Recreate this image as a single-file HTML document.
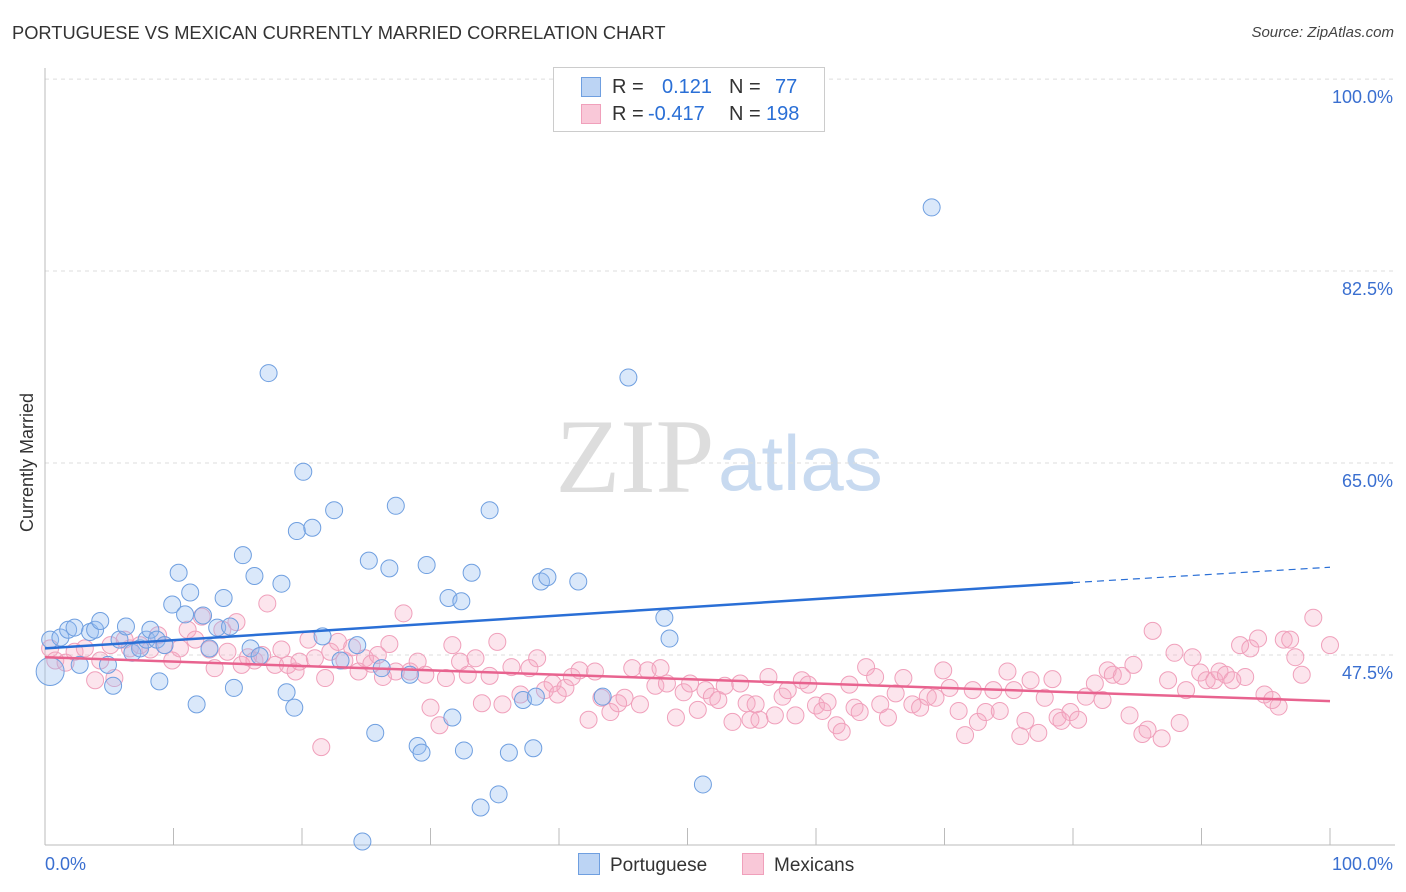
<!DOCTYPE html>
<html><head><meta charset="utf-8"><style>
body{margin:0;background:#fff;font-family:"Liberation Sans",sans-serif;}
#wrap{position:relative;width:1406px;height:892px;overflow:hidden;}
.t{position:absolute;white-space:nowrap;}
</style></head><body>
<div id="wrap">
<div class="t" style="left:12px;top:22px;font-size:18.3px;color:#333">PORTUGUESE VS MEXICAN CURRENTLY MARRIED CORRELATION CHART</div>
<div class="t" style="right:12px;top:24px;font-size:15px;color:#444;font-style:italic">Source: ZipAtlas.com</div>
<div class="t" style="font-size:18px;color:#333;transform:rotate(-90deg);transform-origin:0 0;top:532px;left:17px">Currently Married</div>
<svg id="svg" width="1406" height="892" style="position:absolute;left:0;top:0"></svg>
</div>
<script>
const yTicks=[100,82.5,65,47.5];
const xTickLabels=["0.0%","100.0%"];
const blueX=[0.4,1.2,1.8,2.3,2.7,3.5,3.9,4.3,4.9,5.3,5.8,6.3,6.8,7.4,7.9,8.2,8.7,8.9,9.3,9.9,10.4,10.9,11.3,11.8,12.3,12.8,13.4,13.9,14.4,14.7,15.4,16.0,16.3,16.7,17.4,18.4,18.8,19.4,19.6,20.1,20.8,21.6,22.5,23.0,24.3,25.2,25.7,26.2,26.8,27.3,28.4,29.0,29.3,29.7,31.4,31.7,32.4,32.6,33.2,33.9,34.6,35.3,36.1,37.2,38.0,38.2,38.6,39.1,41.5,43.4,45.4,48.2,48.6,51.2,69.0,24.7,0.4];
const blueY=[48.9,49.1,49.8,50.0,46.6,49.6,49.8,50.6,46.6,44.7,48.9,50.1,47.7,48.1,48.9,49.8,48.9,45.1,48.4,52.1,55.0,51.2,53.2,43.0,51.1,48.1,50.0,52.7,50.1,44.5,56.6,48.1,54.7,47.4,73.2,54.0,44.1,42.7,58.8,64.2,59.1,49.2,60.7,47.0,48.4,56.1,40.4,46.3,55.4,61.1,45.7,39.2,38.6,55.7,52.7,41.8,52.4,38.8,55.0,33.6,60.7,34.8,38.6,43.4,39.0,43.7,54.2,54.6,54.2,43.7,72.8,50.9,49.0,35.7,88.3,30.5,46.0];
const pinkX=[0.4,0.8,1.6,2.3,3.1,3.9,4.3,5.1,5.4,6.2,6.6,7.4,8.2,8.8,9.3,9.9,10.5,11.1,11.7,12.2,12.8,13.2,13.8,14.2,14.9,15.3,15.8,16.3,16.9,17.3,17.9,18.4,18.9,19.5,19.8,20.5,21.0,21.5,21.8,22.2,22.8,23.3,23.9,24.4,24.9,25.4,25.9,26.3,26.8,27.3,27.9,28.4,29.0,29.6,30.0,30.7,31.2,31.7,32.3,32.9,33.5,34.0,34.6,35.2,35.6,36.3,37.0,37.7,38.3,38.9,39.5,39.9,40.5,41.0,41.6,42.3,42.8,43.3,44.0,44.6,45.1,45.7,46.3,46.9,47.5,47.9,48.4,49.1,49.7,50.2,50.8,51.4,51.9,52.4,52.9,53.5,54.1,54.6,54.9,55.3,55.6,56.3,56.8,57.4,57.8,58.4,58.9,59.4,60.0,60.5,60.9,61.6,62.0,62.6,63.0,63.4,63.9,64.6,65.0,65.6,66.2,66.8,67.5,68.1,68.7,69.3,69.9,70.4,71.1,71.6,72.2,72.6,73.2,73.8,74.3,74.9,75.4,75.9,76.3,76.7,77.3,77.8,78.4,78.8,79.1,79.8,80.4,81.0,81.7,82.3,82.7,83.1,83.8,84.4,84.7,85.4,85.8,86.2,86.9,87.4,87.9,88.3,88.8,89.3,89.9,90.4,91.0,91.4,91.9,92.4,93.0,93.4,93.8,94.4,94.9,95.5,96.0,96.4,96.9,97.3,97.8,98.7,100];
const pinkY=[48.1,47.0,46.8,47.8,48.1,45.2,47.0,48.4,45.4,48.9,48.1,48.4,48.0,49.3,48.4,47.0,48.1,49.8,48.9,51.0,48.0,46.3,49.8,47.8,50.5,46.6,47.3,47.0,47.5,52.2,46.6,48.0,46.6,46.0,46.9,48.9,47.2,39.1,45.4,47.8,48.7,47.0,48.2,46.0,47.2,46.7,47.5,45.5,48.5,46.0,51.3,46.0,46.9,45.7,42.7,41.1,45.4,48.4,46.9,45.7,47.2,43.1,45.6,48.7,43.0,46.4,43.9,46.3,47.2,44.3,44.9,43.9,44.5,45.5,46.1,41.6,46.0,43.6,42.3,43.1,43.6,46.3,43.0,46.1,44.7,46.3,44.9,41.8,44.1,44.9,42.5,44.3,43.7,43.4,44.7,41.4,44.9,43.1,41.6,43.0,41.6,45.5,42.0,43.7,44.3,42.0,45.2,44.8,42.9,42.4,43.2,41.1,40.5,44.8,42.7,42.3,46.4,45.5,43.0,41.8,44.0,45.4,43.0,42.7,43.7,43.6,46.1,44.5,42.4,40.2,44.3,41.4,42.3,44.3,42.4,46.0,44.3,40.1,41.5,45.2,40.4,43.6,45.3,41.8,41.5,42.3,41.6,43.7,44.9,43.4,46.1,45.7,45.6,42.0,46.6,40.3,40.7,49.7,39.9,45.2,47.7,41.3,44.3,47.3,45.9,45.2,45.2,46.0,45.7,45.2,48.4,45.5,48.1,49.0,43.9,43.4,42.8,48.9,48.9,47.3,45.7,50.9,48.4];
const blueTrendX=[0,80,100];
const blueTrendY=[48.1,54.1,55.5];
const pinkTrendX=[0,100];
const pinkTrendY=[47.3,43.3];

const X=v=>45+v*12.85;
const Y=v=>655-(v-47.5)*10.97;
const NS="http://www.w3.org/2000/svg";
const svg=document.getElementById('svg');
function mk(tag,attrs,parent){const e=document.createElementNS(NS,tag);for(const k in attrs)e.setAttribute(k,attrs[k]);(parent||svg).appendChild(e);return e;}

let w1=mk('text',{x:635,y:492,'font-size':106,'font-family':'Liberation Serif,serif',fill:'#ddd','text-anchor':'middle'});w1.textContent='ZIP';


let w2=mk('text',{x:718,y:490,'font-size':78,'font-family':'Liberation Sans,sans-serif',fill:'#c8daf0'});w2.textContent='atlas';



yTicks.forEach(t=>{
 const g=mk('line',{x1:45,x2:1395,y1:Y(t),y2:Y(t),stroke:'#ddd','stroke-dasharray':'4,4'});
 
 
 const l=mk('text',{x:1393,y:Y(t)+24,'font-size':18,fill:'#3a6fd0','text-anchor':'end','font-family':'Liberation Sans,sans-serif'});
 l.textContent=t.toFixed(1)+'%';
 
 
});
let ax=mk('line',{x1:45,x2:1395,y1:845,y2:845,stroke:'#bbb'});


let ay=mk('line',{x1:45,x2:45,y1:68,y2:845,stroke:'#bbb'});


for(let i=0;i<=10;i++){
 const tk=mk('line',{x1:X(i*10),x2:X(i*10),y1:828,y2:845,stroke:'#bbb'});
 
 
}
[[0,'start',45],[100,'end',1393]].forEach((a,i)=>{
 const l=mk('text',{x:a[2],y:870,'font-size':18,fill:'#3a6fd0','text-anchor':a[1],'font-family':'Liberation Sans,sans-serif'});
 l.textContent=xTickLabels[i];
 
 
});

pinkX.forEach((x,i)=>{
 const c=mk('circle',{cx:X(x),cy:Y(pinkY[i]),r:8.5,fill:'rgba(244,170,196,0.3)',stroke:'#f0a0bb','stroke-width':1});
 
 
});
blueX.forEach((x,i)=>{
 const big=i===blueX.length-1;
 const c=mk('circle',{cx:X(x),cy:Y(blueY[i]),r:big?14:8.5,fill:'rgba(150,190,240,0.35)',stroke:'#6f9fe0','stroke-width':1});
 
 
});
let bt=mk('line',{x1:X(blueTrendX[0]),y1:Y(blueTrendY[0]),x2:X(blueTrendX[1]),y2:Y(blueTrendY[1]),stroke:'#2a6fd6','stroke-width':2.5});


let bd=mk('line',{x1:X(blueTrendX[1]),y1:Y(blueTrendY[1]),x2:X(blueTrendX[2]),y2:Y(blueTrendY[2]),stroke:'#2a6fd6','stroke-width':1.2,'stroke-dasharray':'7,5'});


let pt=mk('line',{x1:X(pinkTrendX[0]),y1:Y(pinkTrendY[0]),x2:X(pinkTrendX[1]),y2:Y(pinkTrendY[1]),stroke:'#e8638f','stroke-width':2.5});


</script>
<div class="t" style="left:553px;top:67px;width:270px;height:63px;border:1px solid #ccc;background:#fff;font-size:20px">
 <div style="position:absolute;left:27px;top:9px;width:18px;height:18px;background:#bcd4f4;border:1px solid #6f9fe0"></div>
 <div class="t" style="left:58px;top:8px;color:#333">R =</div>
 <div class="t" style="left:108px;top:8px;color:#2a6fd6">0.121</div>
 <div class="t" style="left:175px;top:8px;color:#333">N =</div>
 <div class="t" style="left:221px;top:8px;color:#2a6fd6">77</div>
 <div style="position:absolute;left:27px;top:36px;width:18px;height:18px;background:#f9c8d8;border:1px solid #f0a0bb"></div>
 <div class="t" style="left:58px;top:35px;color:#333">R =</div>
 <div class="t" style="left:94px;top:35px;color:#2a6fd6">-0.417</div>
 <div class="t" style="left:175px;top:35px;color:#333">N =</div>
 <div class="t" style="left:212px;top:35px;color:#2a6fd6">198</div>
</div>
<div class="t" style="left:578px;top:853px;font-size:19px;color:#333"><span style="display:inline-block;width:20px;height:20px;background:#bcd4f4;border:1px solid #6f9fe0;vertical-align:-4px;margin-right:10px"></span>Portuguese</div>
<div class="t" style="left:742px;top:853px;font-size:19px;color:#333"><span style="display:inline-block;width:20px;height:20px;background:#f9c8d8;border:1px solid #f0a0bb;vertical-align:-4px;margin-right:10px"></span>Mexicans</div>
</body></html>
